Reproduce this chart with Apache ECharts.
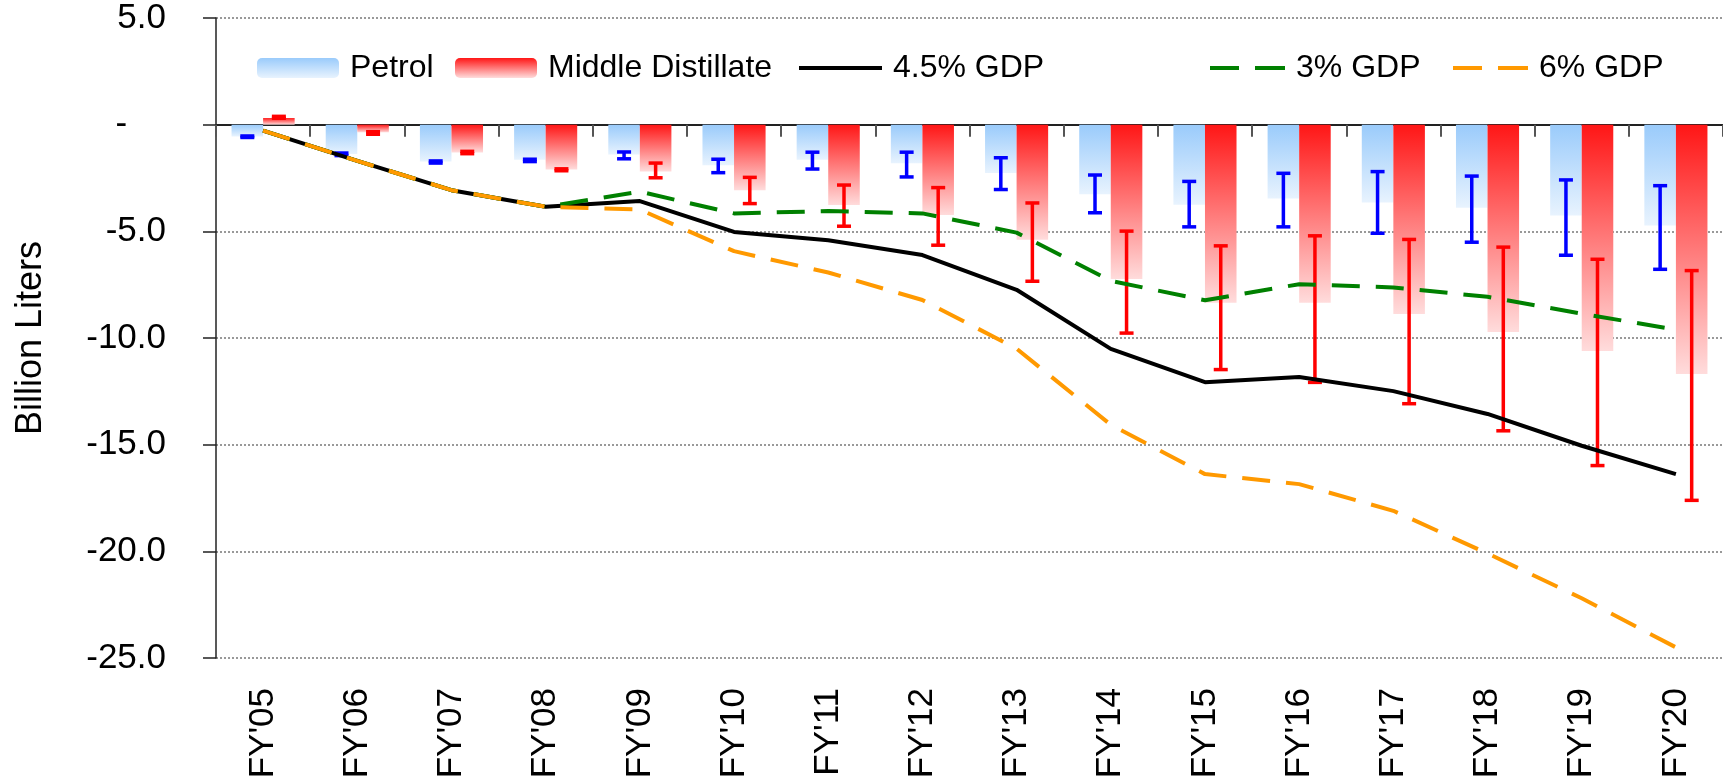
<!DOCTYPE html>
<html>
<head>
<meta charset="utf-8">
<script src="https://cdn.jsdelivr.net/npm/echarts@6/dist/echarts.min.js"></script>
<style>
    html, body { margin: 0; padding: 0; background: #fff; }
    #main { width: 1723px; height: 784px; }
</style>
</head>
<body>
<div id="main"></div>
<script>
// categories
const years = ["FY'05", "FY'06", "FY'07", "FY'08", "FY'09", "FY'10", "FY'11", "FY'12",
    "FY'13", "FY'14", "FY'15", "FY'16", "FY'17", "FY'18", "FY'19", "FY'20"];

// bars (billion liters)
const petrol = [-0.55, -1.38, -1.73, -1.64, -1.40, -1.90, -1.64, -1.81, -2.27, -3.26, -3.75, -3.46, -3.65, -3.89, -4.26, -4.73];
const middleDistillate = [0.31, -0.36, -1.30, -2.10, -2.20, -3.07, -3.77, -4.24, -5.40, -7.24, -8.35, -8.35, -8.87, -9.72, -10.61, -11.69];

// error ranges
const petrolHigh = [-0.53, -1.33, -1.70, -1.62, -1.28, -1.62, -1.29, -1.29, -1.55, -2.36, -2.66, -2.28, -2.20, -2.41, -2.59, -2.86];
const petrolLow = [-0.60, -1.45, -1.80, -1.73, -1.60, -2.25, -2.08, -2.45, -3.04, -4.13, -4.79, -4.79, -5.09, -5.51, -6.12, -6.78];
const mdHigh = [0.39, -0.33, -1.25, -2.07, -1.80, -2.47, -2.83, -2.95, -3.67, -4.99, -5.68, -5.21, -5.38, -5.74, -6.31, -6.84];
const mdLow = [0.30, -0.45, -1.36, -2.16, -2.49, -3.70, -4.76, -5.65, -7.34, -9.77, -11.48, -12.08, -13.08, -14.35, -15.98, -17.61];

// scenario lines
const gdp45 = [-0.28, -1.70, -3.07, -3.85, -3.58, -5.03, -5.42, -6.11, -7.74, -10.51, -12.07, -11.83, -12.49, -13.56, -15.05, -16.38];
const gdp3 = [-0.28, -1.70, -3.07, -3.85, -3.14, -4.16, -4.05, -4.16, -5.06, -7.32, -8.23, -7.48, -7.63, -8.07, -8.86, -9.61];
const gdp6 = [-0.28, -1.70, -3.07, -3.85, -3.98, -5.93, -6.93, -8.22, -10.50, -14.07, -16.38, -16.85, -18.10, -20.10, -22.20, -24.50];

const yTicks = { min: -25, max: 5, step: 5 };

const font = "'Liberation Sans', Arial, sans-serif";
let myChart = echarts.init(document.getElementById('main'));

function errorData (low, high) {
    return years.map(function (y, i) { return [i, low[i], high[i]]; });
}

// draws a vertical whisker with caps, shifted onto the bar of the group
function errorRenderer (shift, color) {
    return function (params, api) {
        const band = api.size([1, 0])[0];
        const x = api.coord([api.value(0), 0])[0] + shift * band;
        const y1 = api.coord([api.value(0), api.value(1)])[1];
        const y2 = api.coord([api.value(0), api.value(2)])[1];
        const half = 7;
        const style = { stroke: color, lineWidth: 3.5 };
        return {
            type: 'group',
            children: [
                { type: 'line', shape: { x1: x, y1: y1, x2: x, y2: y2 }, style: style },
                { type: 'line', shape: { x1: x - half, y1: y1, x2: x + half, y2: y1 }, style: style },
                { type: 'line', shape: { x1: x - half, y1: y2, x2: x + half, y2: y2 }, style: style }
            ]
        };
    };
}

// legend icons for the lines: solid bar / two dashes
const solidIcon = 'path://M0,0h83v4h-83z';
const dashIcon = 'path://M0,0h29v4h-29z M45,0h30v4h-30z';

const legendText = { fontSize: 32, color: '#000', fontFamily: font, padding: [0, 0, 0, 6] };
function legendAt (name, left, width, height, icon) {
    let item = { name: name };
    if (icon) item.icon = icon;
    return {
        data: [item], left: left, top: 52, itemWidth: width, itemHeight: height,
        padding: 0, textStyle: legendText, selectedMode: false
    };
}

let option = {
    animation: false,
    textStyle: { fontFamily: font },
    legend: [
        legendAt('Petrol', 257, 82, 20),
        legendAt('Middle Distillate', 455, 82, 20),
        legendAt('4.5% GDP', 799, 83, 4, solidIcon),
        legendAt('3% GDP', 1210, 75, 4, dashIcon),
        legendAt('6% GDP', 1453, 75, 4, dashIcon)
    ],
    grid: { left: 216, right: -8, top: 18, bottom: 126 },
    xAxis: [
        {
            type: 'category',
            data: years,
            position: 'bottom',
            axisLine: { show: false, onZero: false },
            axisTick: { show: false },
            axisLabel: { rotate: 90, fontSize: 35, color: '#000', margin: 30, fontFamily: font }
        },
        {
            // axis drawn on the zero line, ticks hanging down
            type: 'category',
            data: years,
            position: 'top',
            axisLine: { show: true, onZero: true, lineStyle: { color: '#222', width: 2 } },
            axisTick: { show: true, inside: true, length: 12, lineStyle: { color: '#555', width: 2 } },
            axisLabel: { show: false },
            splitLine: { show: false }
        }
    ],
    yAxis: {
        type: 'value',
        min: yTicks.min,
        max: yTicks.max,
        interval: yTicks.step,
        name: 'Billion Liters',
        nameLocation: 'middle',
        nameGap: 167,
        nameTextStyle: { fontSize: 36, color: '#000', fontFamily: font },
        axisLine: { show: true, lineStyle: { color: '#222', width: 1.5 } },
        axisTick: { show: true, length: 13, lineStyle: { color: '#222', width: 1.5 } },
        axisLabel: {
            fontSize: 35, color: '#000', margin: 50, fontFamily: font,
            formatter: function (v) { return v === 0 ? '-    ' : v.toFixed(1); }
        },
        splitLine: { show: true, lineStyle: { color: '#999', width: 2, type: [2, 2] } }
    },
    series: [
        {
            name: 'Petrol',
            type: 'bar',
            data: petrol,
            barGap: '0%',
            barCategoryGap: '33%',
            itemStyle: {
                color: new echarts.graphic.LinearGradient(0, 0, 0, 1, [
                    { offset: 0, color: '#9ACBFB' },
                    { offset: 1, color: '#E8F3FE' }
                ])
            },
            z: 2
        },
        {
            name: 'Middle Distillate',
            type: 'bar',
            data: middleDistillate,
            barGap: '0%',
            barCategoryGap: '33%',
            itemStyle: {
                color: new echarts.graphic.LinearGradient(0, 0, 0, 1, [
                    { offset: 0, color: '#FF1616' },
                    { offset: 1, color: '#FFDCDC' }
                ])
            },
            z: 2
        },
        {
            type: 'custom',
            data: errorData(petrolLow, petrolHigh),
            encode: { x: 0, y: [1, 2] },
            renderItem: errorRenderer(-0.1675, '#0000FF'),
            z: 3
        },
        {
            type: 'custom',
            data: errorData(mdLow, mdHigh),
            encode: { x: 0, y: [1, 2] },
            renderItem: errorRenderer(0.1675, '#FF0000'),
            z: 3
        },
        {
            name: '4.5% GDP',
            type: 'line',
            data: gdp45,
            symbol: 'none',
            lineStyle: { color: '#000', width: 4 },
            itemStyle: { color: '#000' },
            z: 4
        },
        {
            name: '3% GDP',
            type: 'line',
            data: gdp3,
            symbol: 'none',
            lineStyle: { color: '#008000', width: 4, type: [28, 16] },
            itemStyle: { color: '#008000' },
            z: 5
        },
        {
            name: '6% GDP',
            type: 'line',
            data: gdp6,
            symbol: 'none',
            lineStyle: { color: '#FF9900', width: 4, type: [28, 16] },
            itemStyle: { color: '#FF9900' },
            z: 6
        }
    ]
};

option && myChart.setOption(option);
</script>
</body>
</html>
